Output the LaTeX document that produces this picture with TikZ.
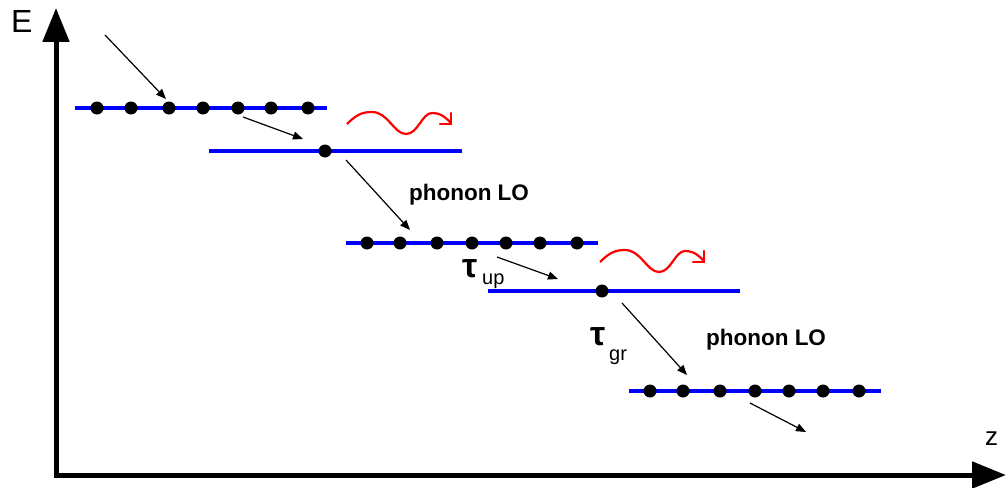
\documentclass[tikz,border=0pt]{standalone}
\usepackage{fontspec}
\setmainfont{Liberation Sans}
\usetikzlibrary{arrows.meta}
\begin{document}
\begin{tikzpicture}[x=1pt,y=-1pt,
  level/.style={blue, line width=4pt},
  dot/.style={circle, fill=black, inner sep=0pt, minimum size=13pt},
  hop/.style={-{Triangle[length=10pt,width=8pt]}, line width=1.2pt},
  axis/.style={line width=5pt, -{Triangle[length=34pt,width=26pt]}},
  wave/.style={red, line width=2.2pt},
  barb/.style={red, line width=2.2pt, line cap=round, line join=miter},
  lbl/.style={font=\fontsize{22.5}{22.5}\selectfont\bfseries, inner sep=0pt, anchor=base},
  big/.style={font=\fontsize{32}{32}\selectfont, inner sep=0pt, anchor=base west},
  zlab/.style={font=\fontsize{26}{26}\selectfont, inner sep=0pt, anchor=base west},
  tau/.style={font=\fontsize{34}{34}\selectfont\bfseries, inner sep=0pt, anchor=base west},
  sub/.style={font=\fontsize{20}{20}\selectfont, inner sep=0pt, anchor=base west},
]
\useasboundingbox (0,0) rectangle (1008,487);

% axes
\coordinate (o) at (56,475);
\coordinate (ytop) at (56,8);
\coordinate (xend) at (1006,475);
\coordinate (ostart) at (53.5,475);
\draw[axis] (56,477.5) -- (ytop);
\draw[axis] (ostart) -- (xend);
\node[big] (E) at (11,33) {E};
\node[zlab] (Z) at (985,445) {z};

% levels
\draw[level] (75,108) -- (327,108);
\draw[level] (209,151) -- (462,151);
\draw[level] (346,243) -- (598,243);
\draw[level] (488,291) -- (740,291);
\draw[level] (629,391) -- (881,391);

% dots
\foreach \x [count=\i] in {97,131,169,203,238,271,308} \node[dot] (a\i) at (\x,108) {};
\node[dot] (b1) at (325,151) {};
\foreach \x [count=\i] in {367,400,437,472,506,540,577} \node[dot] (c\i) at (\x,243) {};
\node[dot] (d1) at (602,291) {};
\foreach \x [count=\i] in {650,683,720,755,789,823,859} \node[dot] (e\i) at (\x,391) {};

% hopping arrows
\coordinate (h1s) at (105,35);   \coordinate (h1e) at (166,99);
\coordinate (h2s) at (243,117);  \coordinate (h2e) at (303,139);
\coordinate (h3s) at (346,160);  \coordinate (h3e) at (410,230);
\coordinate (h4s) at (497,257);  \coordinate (h4e) at (558,279);
\coordinate (h5s) at (622,303);  \coordinate (h5e) at (687,375);
\coordinate (h6s) at (750,403);  \coordinate (h6e) at (806,432);
\foreach \k in {1,...,6} \draw[hop] (h\k s) -- (h\k e);

% photon / phonon waves
\foreach \dx/\dy in {0/0, 253/138} {
  \begin{scope}[shift={(\dx,\dy)}]
    \draw[wave] (347,124) .. controls (356,115) and (362,112) .. (372,112)
      .. controls (388,112) and (394,134) .. (406,134)
      .. controls (418,134) and (422,113) .. (432,113)
      .. controls (442,113) and (447,119) .. (451,123);
    \draw[barb] (451,113) -- (451,124) -- (440,124);
  \end{scope}
}

% labels
\node[lbl] (p1) at (469,200) {phonon LO};
\node[lbl] (p2) at (766,345) {phonon LO};
\node[tau] (tu) at (462,277) {τ};
\node[sub] (tus) at (482,284) {up};
\node[tau] (tg) at (590,345) {τ};
\node[sub] (tgs) at (609,360) {gr};
\end{tikzpicture}
\end{document}
